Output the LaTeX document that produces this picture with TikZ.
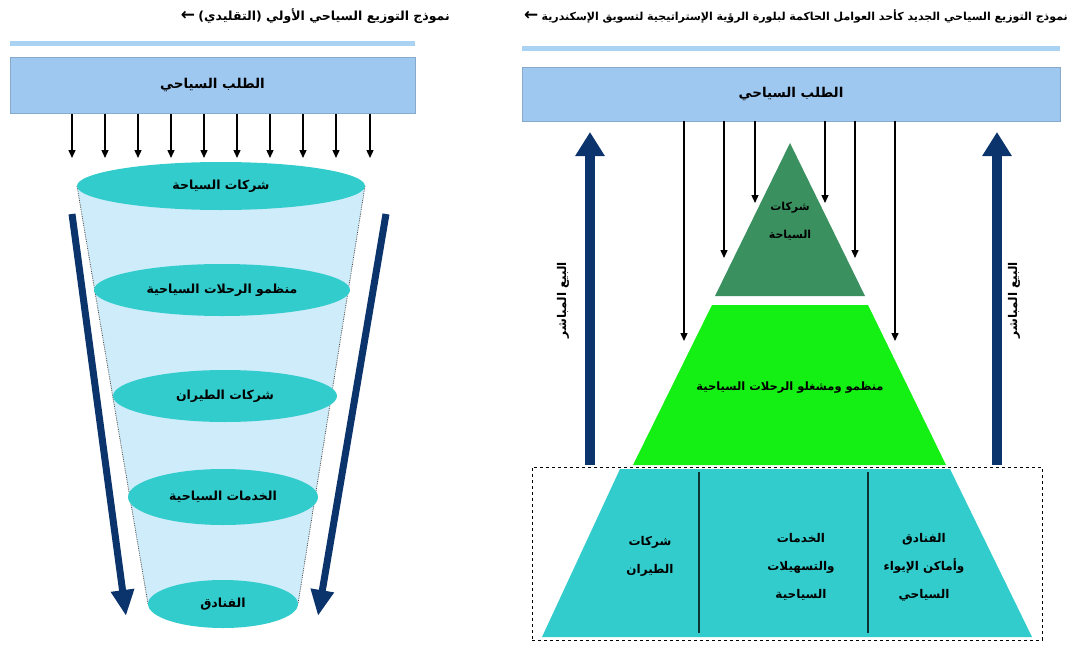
\documentclass[tikz,border=0pt]{standalone}
\usepackage{fontspec}
\usetikzlibrary{shapes.geometric,arrows.meta}
\newfontfamily\arabicfont[Script=Arabic]{DejaVu Sans}
\newfontfamily\symfont{DejaVu Sans}
\TeXXeTstate=1
\newcommand{\AR}[1]{{\arabicfont\bfseries\beginR #1\endR}}
\definecolor{barblue}{RGB}{158,200,240}
\definecolor{lineblue}{RGB}{170,210,242}
\definecolor{funnelblue}{RGB}{206,236,250}
\definecolor{turq}{RGB}{51,204,204}
\definecolor{dkgreen}{RGB}{58,145,95}
\definecolor{brgreen}{RGB}{20,240,20}
\definecolor{navy}{RGB}{12,52,108}
\tikzset{
  bar/.style={fill=barblue, draw=barblue!85!black, line width=0.4pt},
  thinbar/.style={fill=lineblue},
  ell/.style={ellipse, fill=turq, inner sep=0pt, font=\fontsize{12.5}{14}\selectfont},
  darr/.style={-{Triangle[width=7pt,length=8pt]}, line width=1.4pt, black},
  bigarrL/.style={-{Triangle[width=22pt,length=26pt]}, line width=7pt, navy},
  bigarrR/.style={-{Triangle[width=28pt,length=24pt]}, line width=10pt, navy},
  lbl/.style={font=\fontsize{12}{28}\selectfont, align=center, inner sep=0pt},
  ttl/.style={inner sep=0pt}
}
\begin{document}
\begin{tikzpicture}[x=1pt,y=-1pt]
\useasboundingbox (0,0) rectangle (1073,645);

% ================= LEFT PANEL =================
\node[ttl, anchor=east, font=\fontsize{12.5}{14}\selectfont] (titleL) at (450,16) {\AR{نموذج التوزيع السياحي الأولي (التقليدي)}};
\node[ttl, anchor=east, font=\fontsize{17}{17}\selectfont] (tarrL) at ([xshift=-3pt]titleL.west) {\symfont\bfseries ←};
\fill[thinbar] (10,41) rectangle (415,46);
\node[bar, minimum width=405, minimum height=56, inner sep=0pt, font=\fontsize{13.5}{15}\selectfont] (barL) at (212.5,85) {\AR{الطلب السياحي}};

\foreach \i/\x in {1/72,2/105,3/138,4/171,5/204,6/237,7/270,8/303,9/336,10/370}{
  \coordinate (sL\i) at (\x,114);
  \coordinate (tL\i) at (\x,158);
  \draw[darr] (sL\i) -- (tL\i);
}

% funnel body
\coordinate (fTL) at (77,186);
\coordinate (fTR) at (365,186);
\coordinate (fBL) at (148,604);
\coordinate (fBR) at (298,604);
\fill[funnelblue] (fTL) -- (fBL) -- (fBR) -- (fTR) -- cycle;
\draw[densely dotted, gray!60!black, line width=0.8pt] (fTL) -- (fBL);
\draw[densely dotted, gray!60!black, line width=0.8pt] (fTR) -- (fBR);

\node[ell, minimum width=288, minimum height=48] (e1) at (221,186) {\AR{شركات السياحة}};
\node[ell, minimum width=256, minimum height=52] (e2) at (222,290) {\AR{منظمو الرحلات السياحية}};
\node[ell, minimum width=224, minimum height=52] (e3) at (225,396) {\AR{شركات الطيران}};
\node[ell, minimum width=190, minimum height=56] (e4) at (223,497) {\AR{الخدمات السياحية}};
\node[ell, minimum width=150, minimum height=48] (e5) at (223,604) {\AR{الفنادق}};

\coordinate (nL1) at (72,214);
\coordinate (nL2) at (126,616);
\coordinate (nR1) at (386,214);
\coordinate (nR2) at (318,616);
\draw[bigarrL] (nL1) -- (nL2);
\draw[bigarrL] (nR1) -- (nR2);

% ================= RIGHT PANEL =================
\node[ttl, anchor=east, font=\fontsize{11}{13}\selectfont] (titleR) at (1068,16) {\AR{نموذج التوزيع السياحي الجديد كأحد العوامل الحاكمة لبلورة الرؤية الإستراتيجية لتسويق الإسكندرية}};
\node[ttl, anchor=east, font=\fontsize{17}{17}\selectfont] (tarrR) at ([xshift=-3pt]titleR.west) {\symfont\bfseries ←};
\fill[thinbar] (522,46) rectangle (1060,51);
\node[bar, minimum width=538, minimum height=54, inner sep=0pt, font=\fontsize{13.5}{15}\selectfont] (barR) at (791,94) {\AR{الطلب السياحي}};

% dashed frame
\node[draw, dashed, line width=0.9pt, minimum width=510, minimum height=173, inner sep=0pt] (frame) at (787,553.5) {};

% bottom trapezoid
\coordinate (bTL) at (620,469);
\coordinate (bTR) at (950,469);
\coordinate (bBL) at (542,637);
\coordinate (bBR) at (1032,637);
\fill[turq] (bTL) -- (bBL) -- (bBR) -- (bTR) -- cycle;
\coordinate (d1a) at (699,472);
\coordinate (d1b) at (699,633);
\coordinate (d2a) at (868,472);
\coordinate (d2b) at (868,633);
\draw[line width=1.2pt, black!75!turq] (d1a) -- (d1b);
\draw[line width=1.2pt, black!75!turq] (d2a) -- (d2b);

% middle trapezoid
\coordinate (mTL) at (712,305);
\coordinate (mTR) at (868,305);
\coordinate (mBL) at (633,465);
\coordinate (mBR) at (946,465);
\fill[brgreen] (mTL) -- (mBL) -- (mBR) -- (mTR) -- cycle;

% top triangle
\coordinate (tA) at (790,143);
\coordinate (tBL) at (715,296);
\coordinate (tBR) at (865,296);
\fill[dkgreen] (tA) -- (tBL) -- (tBR) -- cycle;

% labels in pyramid
\node[lbl, font=\fontsize{11}{28}\selectfont] (pTop) at (790,221) {\AR{شركات}\\\AR{السياحة}};
\node[lbl, font=\fontsize{11.5}{28}\selectfont] (pMid) at (790,388) {\AR{منظمو ومشغلو الرحلات السياحية}};
\node[lbl] (pB1) at (650,556) {\AR{شركات}\\\AR{الطيران}};
\node[lbl] (pB2) at (801,567) {\AR{الخدمات}\\\AR{والتسهيلات}\\\AR{السياحية}};
\node[lbl] (pB3) at (924,567) {\AR{الفنادق}\\\AR{وأماكن الإيواء}\\\AR{السياحي}};

% demand arrows
\foreach \i/\x/\y in {1/684/341,2/724/258,3/755/203,4/825/203,5/855/258,6/895/341}{
  \coordinate (sR\i) at (\x,121);
  \coordinate (tR\i) at (\x,\y);
  \draw[darr] (sR\i) -- (tR\i);
}

% direct sales arrows
\coordinate (uL1) at (590,465);
\coordinate (uL2) at (590,132);
\coordinate (uR1) at (997,465);
\coordinate (uR2) at (997,132);
\draw[bigarrR] (uL1) -- (uL2);
\draw[bigarrR] (uR1) -- (uR2);
\node[lbl, rotate=90] (sL) at (563,300) {\AR{البيع المباشر}};
\node[lbl, rotate=90] (sR) at (1014,300) {\AR{البيع المباشر}};
\end{tikzpicture}
\end{document}
